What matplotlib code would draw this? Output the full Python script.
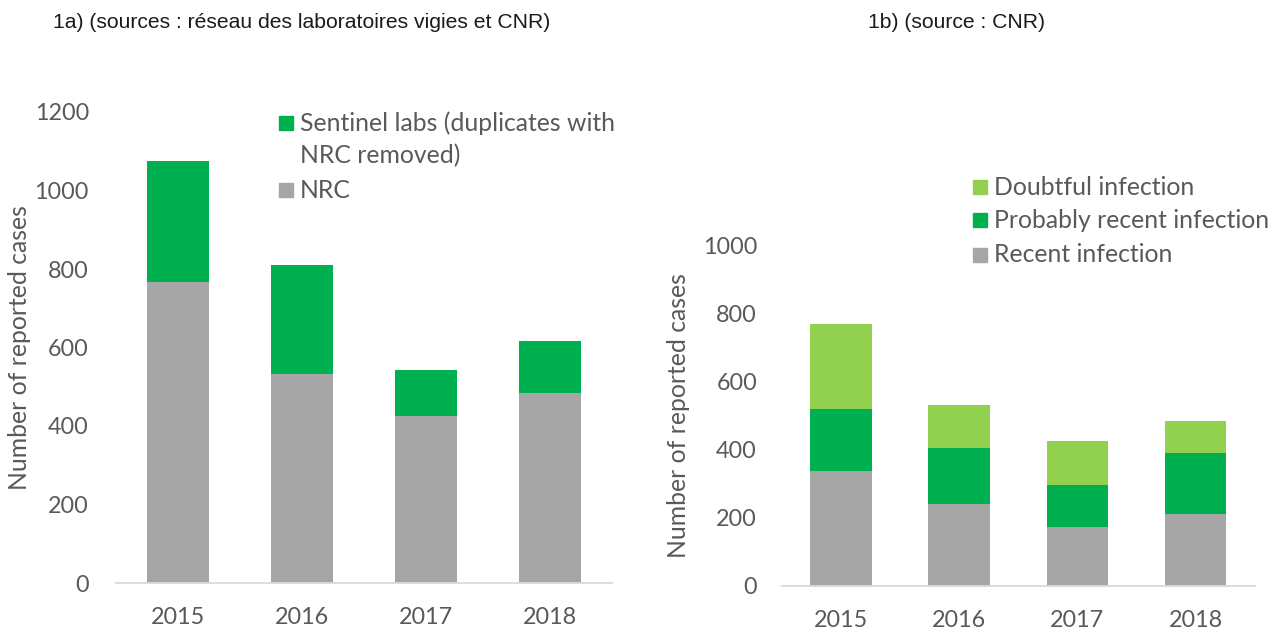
import matplotlib.pyplot as plt
from matplotlib.patches import Rectangle

years = ["2015", "2016", "2017", "2018"]

# 1a) sentinel labs + NRC
nrc = [768, 533, 426, 484]
sentinel = [308, 277, 117, 132]

# 1b) NRC by infection status
recent = [336, 241, 173, 210]
probable = [184, 163, 124, 180]
doubtful = [247, 128, 127, 93]

GREY = "#A6A6A6"
GREEN = "#00B050"
LIGHT = "#92D050"
TXT = "#595959"

TICK_FS = 16.8
LAB_FS = 17.8

plt.rcParams["font.family"] = ["Lato", "DejaVu Sans"]

fig = plt.figure(figsize=(12.77, 6.3), dpi=100)
W, H = 1277.0, 630.0


def box(x0, x1, y_bottom, y_top):
    return [x0 / W, 1 - y_bottom / H, (x1 - x0) / W, (y_bottom - y_top) / H]


def style(ax, ymax, ypad, xpad):
    ax.set_xlim(-0.5, 3.5)
    ax.set_ylim(0, ymax)
    ax.set_yticks(range(0, ymax + 1, 200))
    ax.set_xticks(range(len(years)))
    ax.set_xticklabels(years)
    for s in ["top", "right", "left"]:
        ax.spines[s].set_visible(False)
    ax.spines["bottom"].set_color("#D9D9D9")
    ax.spines["bottom"].set_linewidth(1.3)
    ax.tick_params(axis="both", length=0, labelsize=TICK_FS, colors=TXT)
    ax.tick_params(axis="y", pad=ypad)
    ax.tick_params(axis="x", pad=xpad)
    ax.set_ylabel("Number of reported cases", fontsize=LAB_FS, color=TXT)


def legend_item(x, y, color, text):
    fig.patches.append(Rectangle((x / W, 1 - (y + 7) / H), 14 / W, 14 / H,
                                 transform=fig.transFigure, color=color))
    fig.text((x + 21) / W, 1 - y / H, text, fontsize=LAB_FS, color=TXT,
             va="center", ha="left")


# left panel
ax1 = fig.add_axes(box(116, 611.5, 583, 112))
x = range(len(years))
ax1.bar(x, nrc, width=0.5, color=GREY)
ax1.bar(x, sentinel, width=0.5, bottom=nrc, color=GREEN)
style(ax1, 1200, 19.5, 17)
ax1.yaxis.set_label_coords(-0.172, 0.5)

# right panel
ax2 = fig.add_axes(box(782, 1254.5, 586, 245))
bot2 = [r + p for r, p in zip(recent, probable)]
ax2.bar(x, recent, width=0.52, color=GREY)
ax2.bar(x, probable, width=0.52, bottom=recent, color=GREEN)
ax2.bar(x, doubtful, width=0.52, bottom=bot2, color=LIGHT)
style(ax2, 1000, 18, 17)
ax2.yaxis.set_label_coords(-0.195, 0.5)

# titles
fig.text(53 / W, 1 - 23 / H, "1a) (sources : réseau des laboratoires vigies et CNR)",
         fontsize=15.2, family="Liberation Sans", color="#1A1A1A", va="center")
fig.text(956 / W, 1 - 23 / H, "1b) (source : CNR)",
         fontsize=15.2, family="Liberation Sans", color="#1A1A1A", va="center", ha="center")

# legends
legend_item(279, 123, GREEN, "Sentinel labs (duplicates with")
fig.text(300 / W, 1 - 156 / H, "NRC removed)", fontsize=LAB_FS, color=TXT, va="center")
legend_item(279, 190, GREY, "NRC")

legend_item(973, 187, LIGHT, "Doubtful infection")
legend_item(973, 220, GREEN, "Probably recent infection")
legend_item(973, 255, GREY, "Recent infection")

fig.savefig("out.png", dpi=100)
